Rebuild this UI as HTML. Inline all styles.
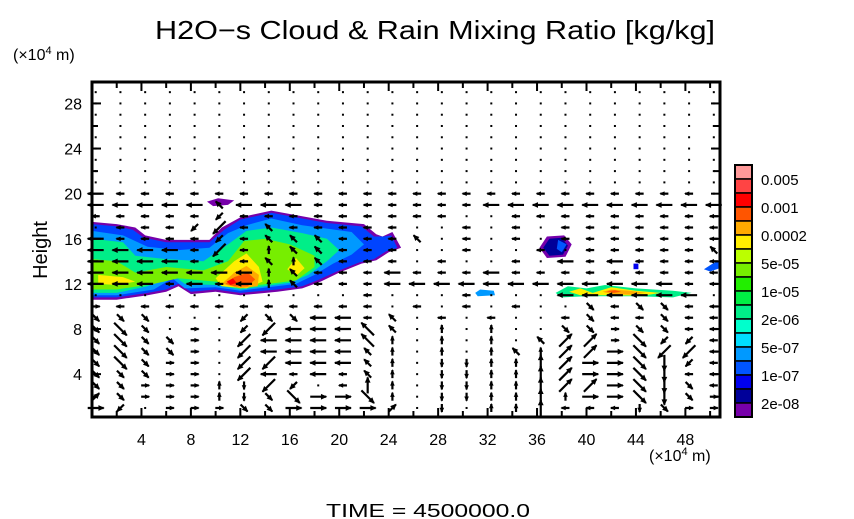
<!DOCTYPE html>
<html><head><meta charset="utf-8"><style>
html,body{margin:0;padding:0;background:#fff;}
svg{display:block;font-family:"Liberation Sans",sans-serif;}
</style></head><body>
<svg id="chart" width="854" height="519" viewBox="0 0 854 519">
<text x="155" y="39" font-size="26" textLength="560" lengthAdjust="spacingAndGlyphs">H2O−s Cloud &amp; Rain Mixing Ratio [kg/kg]</text>
<text x="13" y="60" font-size="16">(×10<tspan dy="-6" font-size="11">4</tspan><tspan dy="6"> m)</tspan></text>
<text x="649" y="461" font-size="16">(×10<tspan dy="-6" font-size="11">4</tspan><tspan dy="6"> m)</tspan></text>
<text transform="translate(47,250) rotate(-90)" font-size="20" text-anchor="middle">Height</text>
<text x="428" y="517" font-size="18" text-anchor="middle" textLength="204" lengthAdjust="spacingAndGlyphs">TIME = 4500000.0</text>
<g id="clouds"></g>
<g id="vectors"></g>
<g id="axes"></g>
<g id="colorbar"></g>
</svg>
<script>
const xTicks=[4,8,12,16,20,24,28,32,36,40,44,48];
const yTicks=[4,8,12,16,20,24,28];
const cbColors=["#ff9999","#ff4444","#ff0000","#ff5500","#ffaa00","#ffee00","#bbff00","#77ee00","#22ee00","#00ee44","#00ee88","#00ffcc","#00ddff","#0099ff","#0055ff","#0000ee","#000099","#7700aa"];
const cbLabels=["0.005","0.001","0.0002","5e-05","1e-05","2e-06","5e-07","1e-07","2e-08"];
// wind field: rows from h=20 down to h=1, columns x=0,2,...,50
const windRows=[
"Lllllllllllllllllllllllll.",
"LLLLLcLLLlllllllLLLLLLLLLL",
"lllllalllllllll..lllllllll",
".lllaAlclllll..l.l.lllllll",
"Lllllalccclllc.l.l.lllllll",
"LLLLlAlucclll..l..l.lllllc",
"LLLLlllcuclll.l..l.LlLllll",
"LLLLLLLuclllLlllLlllllllll",
"LLLlLlLuclllLLLLLLLLLLLLll",
"...........l...l...LLLLLL.",
"rlllllllllll.l.l.l..blbbll",
"bbb...abbLLlc.l.l..lbllbll",
"bBb.r.aALLLCc.u.u..bbrbbll",
"bBbbr.ALLLLCu.u.u.cEErBaal",
"bBbbr.ALLLLcu.u.ucuEERBAAl",
"bBbrr.AALLLcu.dduuUERRBDal",
"bbbrr.ALlLlcu.dduuUERRBDll",
"bbrrrudAa.lUu.dduuUEERBDbl",
"ebrrrudbBRRBu.dduuUuRRBDbr",
"Ra.rrrbbRRRRe.d.uuUllldbrr"
];
const dirs={l:[-1,0,8],L:[-1,0,16],r:[1,0,8],R:[1,0,16],u:[0,1,8],U:[0,1,16],d:[0,-1,8],D:[0,-1,16],
a:[-.7,-.7,10],A:[-.7,-.7,18],b:[.7,-.7,10],B:[.7,-.7,18],c:[-.7,.7,10],C:[-.7,.7,18],e:[.7,.7,10],E:[.7,.7,18]};
// cloud contour layers in data units [x,h]
const mainCloud=[
 {c:"#7700aa",p:[[0,17.5],[2,17.3],[3.5,17],[4.3,16.3],[6,15.9],[9.5,15.9],[10.5,17],[12,17.9],[14.5,18.5],[17,18],[19,17.6],[22,17.3],[23,16.4],[23.5,16.2],[24.3,16.6],[25,15.2],[24,14.8],[23,14.1],[21.8,13.8],[20,13],[18.5,12.2],[17,11.6],[15,11.3],[12,11],[10,11.3],[8,11.1],[7,11.8],[6,11.3],[4.5,11],[2,10.6],[0,10.6]]},
 {c:"#0044ff",p:[[0,17.3],[2,17.1],[3.3,16.8],[4.2,16.1],[6,15.7],[9.5,15.7],[10.7,16.8],[12,17.7],[14.5,18.3],[17,17.8],[19,17.4],[21.8,17.1],[22.8,16.2],[23.6,16.2],[24.2,16.3],[24.7,15.2],[23.8,14.9],[22.8,14.2],[21.6,13.9],[19.8,13.1],[18.4,12.4],[17,11.8],[15,11.5],[12,11.2],[10,11.5],[8,11.3],[7,12],[6,11.5],[4.5,11.2],[2,10.8],[0,10.8]]},
 {c:"#0099ff",p:[[0,16.7],[2.5,16.3],[4.5,15.3],[7,15],[9.5,15.2],[11,16.5],[12.5,17.2],[14.5,17.8],[17,17.2],[19,16.9],[21,16.6],[22,15.5],[21,14.6],[19.5,13.8],[18,12.8],[16.5,12],[12,11.4],[10,11.7],[7.5,11.6],[6.5,12.5],[5,11.5],[2,11],[0,11]]},
 {c:"#00ee88",p:[[0,16],[2.5,15.7],[3.5,14.5],[6,14.2],[9,14],[11,15.5],[12.5,16.7],[14.5,17],[17,16.5],[19,16],[20,15],[19,14],[17.5,12.8],[16,12.1],[12,11.5],[10,11.9],[7.5,12],[6.5,12.8],[4.5,11.8],[2,11.2],[0,11.2]]},
 {c:"#77ee00",p:[[0,14.2],[2,14],[3.5,13],[6,13.5],[9,13.2],[11,14],[12.3,15.8],[14,16],[16,15.5],[18,14.5],[18,13.5],[16.5,12.3],[12,11.7],[10,12.2],[7,12.5],[5,12],[2,11.5],[0,11.5]]},
 {c:"#ffee00",p:[[0.5,12.8],[2.5,12.6],[3.5,12.2],[2,11.9],[0.5,12]]},
 {c:"#ffee00",p:[[10,12.5],[11.5,14],[12.5,14.7],[13.5,13.5],[13.8,12.2],[12.5,11.6],[10.5,11.8]]},
 {c:"#ffee00",p:[[15.8,13.3],[16.5,14.3],[17.2,13.4],[16.5,12.7]]},
 {c:"#ffaa00",p:[[10.5,12],[11.5,13],[12.5,13.6],[13.5,12.8],[13.4,11.8],[12,11.6]]},
 {c:"#ff5500",p:[[10.8,12],[11.5,12.6],[12.6,13],[13.2,12.4],[12.6,11.8],[11.5,11.8]]},
 {c:"#ff0000",p:[[10.9,12.2],[11.4,12.5],[11.7,12.1],[11.2,11.9]]}
];
const smallClouds=[
 {c:"#7700aa",p:[[9.3,19.3],[10.2,19.6],[11.5,19.4],[11,19],[9.8,18.9]]},
 {c:"#7700aa",p:[[36.2,15.2],[36.8,16.2],[38.2,16.3],[38.8,15.5],[38.3,14.4],[36.8,14.3]]},
 {c:"#000099",p:[[36.5,15.2],[37,16],[38,16.1],[38.5,15.4],[38.1,14.6],[37,14.5]]},
 {c:"#0055ff",p:[[37.7,15.9],[38.4,15.5],[38,14.8],[37.6,15.1]]},
 {c:"#0000ee",p:[[43.8,13.8],[44.2,13.8],[44.2,13.3],[43.8,13.3]]},
 {c:"#0055ff",p:[[49.5,13.3],[50.2,13.8],[50.8,14.1],[50.8,13.4],[50,13.1]]},
 {c:"#0099ff",p:[[31,11.2],[31.4,11.5],[32.5,11.4],[32.6,11],[31.2,10.9]]},
 {c:"#00ee88",p:[[37.5,11.2],[38.5,11.8],[40,11.6],[41.5,11.9],[44,11.6],[47,11.4],[48.5,11.2],[47,10.8],[44,10.9],[40,10.9],[38,10.8]]},
 {c:"#ffee00",p:[[38.6,11.3],[39.5,11.6],[40.5,11.2],[42,11.7],[44,11.4],[46,11.2],[44.5,10.95],[42,11],[39.5,11]]},
 {c:"#ffaa00",p:[[41.3,11.3],[42,11.5],[43.5,11.4],[44.8,11.2],[43.5,11.05],[42,11.1]]},
 {c:"#ff5500",p:[[41.6,11.35],[42.3,11.45],[42.8,11.3],[42.2,11.2]]}
];
const NS="http://www.w3.org/2000/svg";
const X0=92,X1=720,Y0=82,Y1=417,xmin=0,xmax=50.8,hmin=0.2,hmax=29.9;
function sx(v){return X0+(v-xmin)/(xmax-xmin)*(X1-X0);}
function sy(v){return Y1-(v-hmin)/(hmax-hmin)*(Y1-Y0);}
function mk(tag,attrs,parent){const e=document.createElementNS(NS,tag);for(const k in attrs)e.setAttribute(k,attrs[k]);parent.appendChild(e);return e;}
const gC=document.getElementById("clouds");
const cp=mk("clipPath",{id:"clip"},gC);
mk("rect",{x:X0,y:Y0,width:X1-X0,height:Y1-Y0},cp);
gC.setAttribute("clip-path","url(#clip)");
mainCloud.concat(smallClouds).forEach(l=>{
  const pg=mk("polygon",{points:l.p.map(q=>sx(q[0]).toFixed(1)+","+sy(q[1]).toFixed(1)).join(" "),fill:l.c},gC);
  
  
});
// wind vectors
const gV=document.getElementById("vectors");
function arrow(x,y,dx,dy,len){
  const x2=x+dx*len,y2=y-dy*len;
  const g=mk("g",{},gV);
  
  
  mk("line",{x1:x,y1:y,x2:x2,y2:y2,stroke:"#000","stroke-width":2.2},g);
  const ang=Math.atan2(y2-y,x2-x),hs=Math.min(6,len*0.6);
  const p=[[x2+Math.cos(ang),y2+Math.sin(ang)],[x2-hs*Math.cos(ang-0.5),y2-hs*Math.sin(ang-0.5)],[x2-hs*Math.cos(ang+0.5),y2-hs*Math.sin(ang+0.5)]];
  mk("polygon",{points:p.map(q=>q.join(",")).join(" "),fill:"#000"},g);
}
for(let h=29;h>=1;h--){
  const idx=20-h;
  const row=idx>=0?windRows[idx]:"..........................";
  for(let i=0;i<26;i++){
    const ch=row[i]||".";
    const cx=sx(0.3+2*i),cy=sy(h);
    if(cx>X1-2)continue;
    if(ch==="."){const d=mk("rect",{x:cx-1,y:cy-1,width:2,height:2,fill:"#000"},gV);continue;}
    const d=dirs[ch];arrow(cx-d[0]*d[2]/2,cy+d[1]*d[2]/2,d[0],d[1],d[2]);
  }
}
// axes
const gA=document.getElementById("axes");
const fr=mk("rect",{x:X0,y:Y0,width:X1-X0,height:Y1-Y0,fill:"none",stroke:"#000","stroke-width":3},gA);


for(let v=2;v<=50;v+=2){const x=sx(v),L=v%4===0?9:6;
  mk("line",{x1:x,y1:Y1,x2:x,y2:Y1-L,stroke:"#000","stroke-width":2},gA);
  mk("line",{x1:x,y1:Y0,x2:x,y2:Y0+L,stroke:"#000","stroke-width":2},gA);}
for(let v=2;v<=28;v+=2){const y=sy(v),L=v%4===0?9:6;
  mk("line",{x1:X0,y1:y,x2:X0+L,y2:y,stroke:"#000","stroke-width":2},gA);
  mk("line",{x1:X1,y1:y,x2:X1-L,y2:y,stroke:"#000","stroke-width":2},gA);}
xTicks.forEach(v=>{const t=mk("text",{x:sx(v),y:445,"font-size":16,"text-anchor":"middle"},gA);t.textContent=v;
  
  });
yTicks.forEach(v=>{const t=mk("text",{x:82,y:sy(v)+6,"font-size":16,"text-anchor":"end"},gA);t.textContent=v;
  
  });
// colorbar
const gB=document.getElementById("colorbar");


const CX=735,CW=17,CT=165,CB=417,ch=(CB-CT)/cbColors.length;
cbColors.forEach((c,i)=>{const r=mk("rect",{x:CX,y:CT+i*ch,width:CW,height:ch,fill:c,stroke:"#000","stroke-width":1.5},gB);
  
  });
mk("rect",{x:CX,y:CT,width:CW,height:CB-CT,fill:"none",stroke:"#000","stroke-width":2},gB);
cbLabels.forEach((s,i)=>{const y=i<8?CT+(1+2*i)*ch:CT+17*ch;const t=mk("text",{x:761,y:y+6,"font-size":15},gB);t.textContent=s;
  
  });
</script>
</body></html>
